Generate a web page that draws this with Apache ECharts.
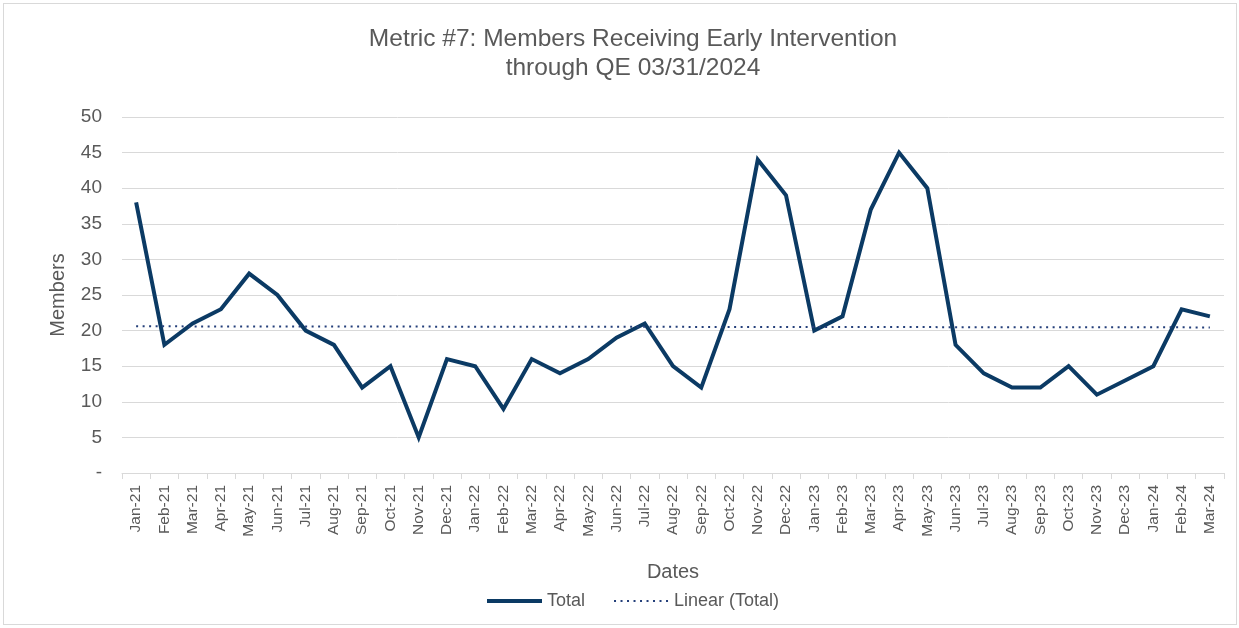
<!DOCTYPE html>
<html><head><meta charset="utf-8">
<script src="https://cdn.jsdelivr.net/npm/echarts@6/dist/echarts.min.js"></script>
<style>
html,body{margin:0;padding:0;background:#fff;}
#frame{position:absolute;left:3px;top:3px;width:1232px;height:620px;border:1px solid #d9d9d9;}
#c{position:absolute;left:0;top:0;width:1239px;height:628px;}
</style></head>
<body><div id="frame"></div><div id="c"></div>
<script>
const categories = ["Jan-21","Feb-21","Mar-21","Apr-21","May-21","Jun-21","Jul-21","Aug-21","Sep-21","Oct-21","Nov-21","Dec-21",
"Jan-22","Feb-22","Mar-22","Apr-22","May-22","Jun-22","Jul-22","Aug-22","Sep-22","Oct-22","Nov-22","Dec-22",
"Jan-23","Feb-23","Mar-23","Apr-23","May-23","Jun-23","Jul-23","Aug-23","Sep-23","Oct-23","Nov-23","Dec-23",
"Jan-24","Feb-24","Mar-24"];
const totalValues = [38,18,21,23,28,25,20,18,12,15,5,16,
15,9,16,14,16,19,21,15,12,23,44,39,
20,22,37,45,40,18,14,12,12,15,11,13,
15,23,22];
const trendStart = 20.6;
const trendEnd = 20.45;
const trendValues = categories.map((c,i)=> i===0 ? trendStart : (i===categories.length-1 ? trendEnd : null));

const chart = echarts.init(document.getElementById('c'), null, {renderer:'canvas'});
const txt = '#595959';
const font = 'Liberation Sans, Arial, sans-serif';
chart.setOption({
  animation:false,
  textStyle:{fontFamily:font},
  title:{
    text:'Metric #7: Members Receiving Early Intervention\nthrough QE 03/31/2024',
    left:628, textAlign:'center', top:20,
    textStyle:{fontFamily:font, fontSize:24.5, fontWeight:'normal', color:txt, lineHeight:29}
  },
  legend:{
    bottom:13, left:480, itemGap:28, itemWidth:55, itemHeight:10,
    textStyle:{fontFamily:font, fontSize:18, color:txt},
    data:[{name:'Total', itemStyle:{opacity:0}, lineStyle:{width:4}},
          {name:'Linear (Total)', itemStyle:{opacity:0}}]
  },
  grid:{left:122, right:15, top:117, bottom:155},
  xAxis:{
    type:'category', data:categories, boundaryGap:true,
    name:'Dates', nameLocation:'middle', nameGap:89,
    nameTextStyle:{fontFamily:font, fontSize:20, color:txt},
    axisLine:{show:true, lineStyle:{color:'#d9d9d9', width:1}},
    axisTick:{show:true, alignWithLabel:false, length:6, lineStyle:{color:'#d9d9d9'}},
    axisLabel:{rotate:90, interval:0, fontFamily:font, fontSize:15.5, color:txt, margin:12},
    splitLine:{show:false}
  },
  yAxis:{
    type:'value', min:0, max:50, interval:5,
    name:'Members', nameLocation:'middle', nameGap:54, nameRotate:90,
    nameTextStyle:{fontFamily:font, fontSize:20, color:txt},
    axisLine:{show:false}, axisTick:{show:false},
    axisLabel:{fontFamily:font, fontSize:19, color:txt, margin:20,
      formatter:v=> v===0 ? '-' : String(v)},
    splitLine:{show:true, lineStyle:{color:'#d9d9d9', width:1}}
  },
  series:[
    {name:'Total', type:'line', data:totalValues, symbol:'none',
     lineStyle:{color:'#0b3a64', width:4, join:'miter'}, itemStyle:{color:'#0b3a64'}},
    {name:'Linear (Total)', type:'line', data:trendValues, connectNulls:true, symbol:'none',
     lineStyle:{color:'#243f7a', width:2, type:[2,4.5]}, itemStyle:{color:'#243f7a'}}
  ]
});
</script></body></html>
